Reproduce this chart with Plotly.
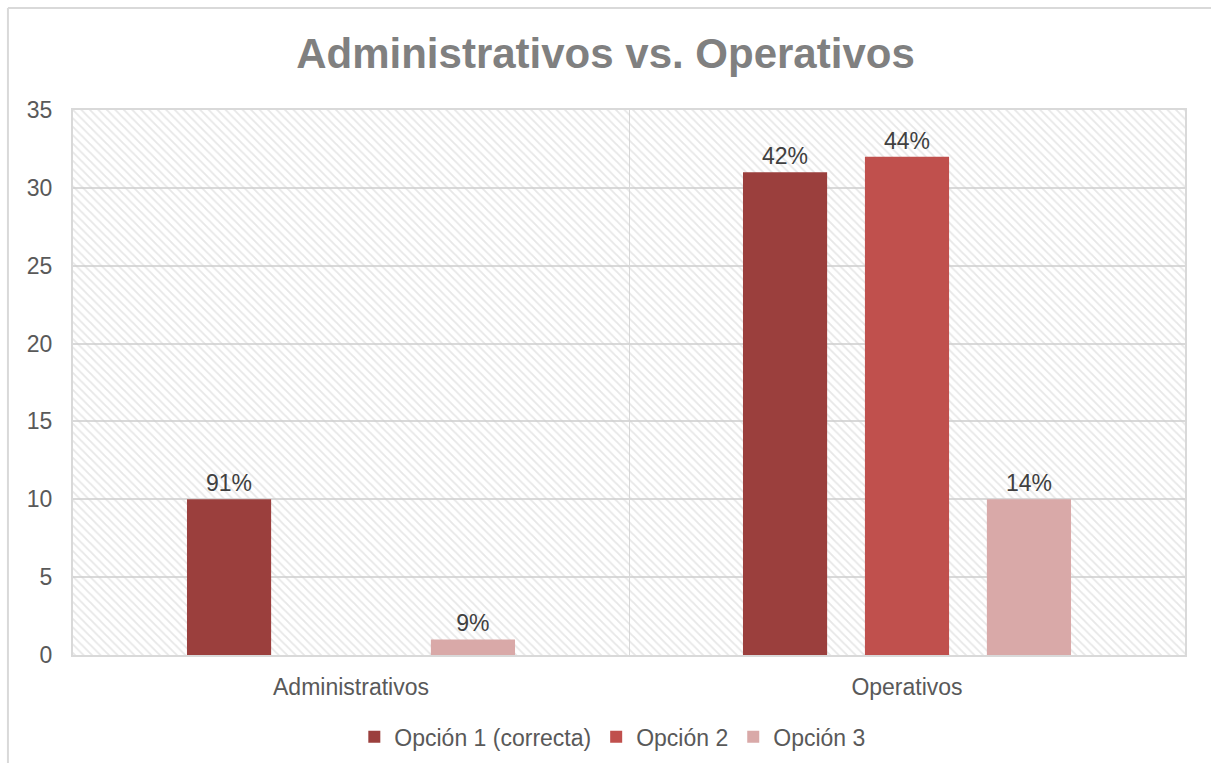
import plotly.graph_objects as go

# Chart data
categories = ["Administrativos", "Operativos"]
series_names = ["Opción 1 (correcta)", "Opción 2", "Opción 3"]
opcion_1 = [10, 31]
opcion_2 = [0, 32]
opcion_3 = [1, 10]
series_values = [opcion_1, opcion_2, opcion_3]
series_colors = ["#9B3F3D", "#C0504D", "#D9A9A8"]
y_ticks = [0, 5, 10, 15, 20, 25, 30, 35]

FONT = "Liberation Sans, Arial, sans-serif"
GRID = "#d9d9d9"

# Share of each option within its group (labels above the bars)
group_totals = [sum(v[i] for v in series_values) for i in range(len(categories))]


def pct_labels(values):
    out = []
    for i, v in enumerate(values):
        out.append(f"{round(v / group_totals[i] * 100)}%" if v else "")
    return out


fig = go.Figure()

# Hatched plot-area background, drawn as an overlay bar behind the data
fig.add_trace(go.Bar(
    x=[categories[0]], y=[max(y_ticks)],
    offset=-0.5, width=[len(categories)],
    marker=dict(
        color="rgba(0,0,0,0)",
        line=dict(width=0),
        pattern=dict(shape="\\", fgcolor="#cfcfcf", size=6, solidity=0.3,
                     fillmode="overlay"),
    ),
    showlegend=False, hoverinfo="skip",
))

for name, vals, color in zip(series_names, series_values, series_colors):
    fig.add_trace(go.Bar(
        name=name, x=categories, y=vals,
        marker=dict(color=color, line=dict(width=0)),
        text=pct_labels(vals), textposition="outside",
        textfont=dict(family=FONT, size=23, color="#404040"),
        cliponaxis=False,
    ))

# Outer chart frame (left and top edges)
frame = dict(type="line", xref="paper", yref="paper",
             line=dict(color=GRID, width=2))
fig.add_shape(**frame, x0=-0.0585, x1=-0.0585, y0=1.1872, y1=-0.2)
fig.add_shape(**frame, x0=-0.0585, x1=1.03, y0=1.1872, y1=1.1872)

fig.update_layout(
    width=1211, height=763,
    margin=dict(l=73, r=26, t=110, b=108, autoexpand=False),
    paper_bgcolor="white", plot_bgcolor="white",
    barmode="group", bargap=0.342, bargroupgap=0.31,
    title=dict(text="<b>Administrativos vs. Operativos</b>",
               font=dict(family=FONT, size=42, color="#808080"),
               x=0.5, xanchor="center", y=0.93, yanchor="middle"),
    font=dict(family=FONT, color="#595959"),
    legend=dict(orientation="h", x=0.485, xanchor="center", y=-0.15,
                yanchor="middle", font=dict(family=FONT, size=23, color="#595959"),
                itemwidth=30, traceorder="normal"),
    xaxis=dict(
        type="category", tickson="boundaries", showgrid=True, gridcolor=GRID,
        gridwidth=1, showline=True, linecolor=GRID, linewidth=2, mirror=True,
        ticks="", ticklabelstandoff=10,
        tickfont=dict(family=FONT, size=23, color="#595959"),
        range=[-0.5, 1.5], automargin=False,
    ),
    yaxis=dict(
        range=[0, 35], tickvals=y_ticks, showgrid=True, gridcolor=GRID,
        gridwidth=2, showline=True, linecolor=GRID, linewidth=2, mirror=True,
        zeroline=False, ticks="outside", ticklen=14, tickcolor="rgba(0,0,0,0)",
        tickfont=dict(family=FONT, size=23, color="#595959"),
        automargin=False,
    ),
)

fig.write_html("out.html")
